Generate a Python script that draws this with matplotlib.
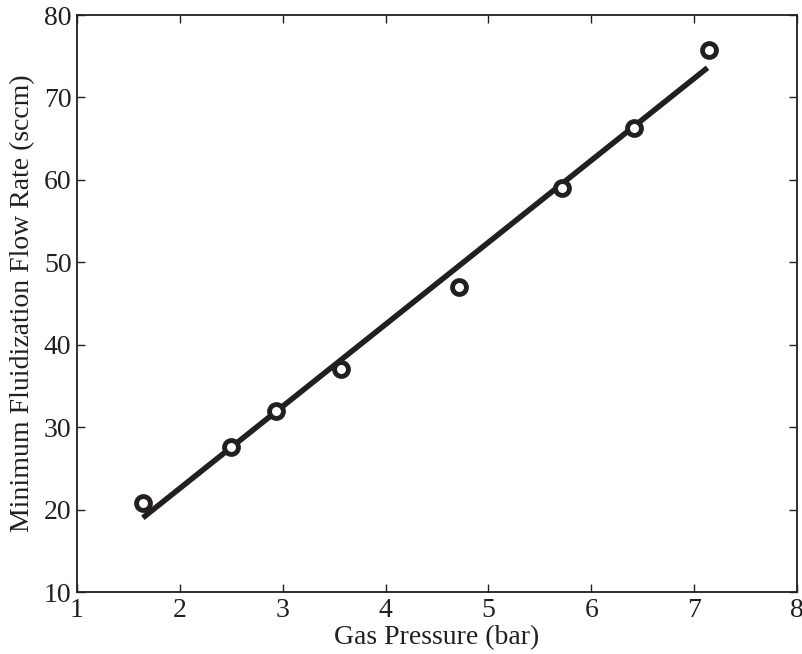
import matplotlib
matplotlib.use("Agg")
import matplotlib.pyplot as plt

# measured points
pressure = [1.64, 2.50, 2.93, 3.57, 4.71, 5.72, 6.42, 7.14]
flow_rate = [20.8, 27.6, 32.0, 37.0, 47.0, 59.0, 66.3, 75.8]

# linear fit line (endpoints)
fit_x = [1.64, 7.13]
fit_y = [19.0, 73.6]

plt.rcParams["font.family"] = ["Liberation Serif", "DejaVu Serif"]
plt.rcParams["mathtext.fontset"] = "stix"

fig = plt.figure(figsize=(8.03, 6.54), dpi=100)
ax = fig.add_axes([77 / 803, 1 - 592 / 654, 720 / 803, 577 / 654])

ax.plot(fit_x, fit_y, color="#231f20", linewidth=4, solid_capstyle="butt")
ax.plot(pressure, flow_rate, "o", markersize=10, markerfacecolor="white",
        markeredgecolor="#231f20", markeredgewidth=3.5)

ax.set_xlim(1, 8)
ax.set_ylim(10, 80)
ax.set_xticks(range(1, 9))
ax.set_yticks(range(10, 81, 10))
ax.tick_params(direction="in", top=True, right=True, length=6, width=1,
               labelsize=20, colors="#231f20", pad=4)
for s in ax.spines.values():
    s.set_linewidth(1.3)
    s.set_color("#231f20")

ax.set_xlabel("Gas Pressure (bar)", fontsize=20, labelpad=2, color="#231f20")
ax.set_ylabel("Minimum Fluidization Flow Rate (sccm)", fontsize=20, labelpad=6,
              color="#231f20")

fig.savefig("out.png", dpi=100)
